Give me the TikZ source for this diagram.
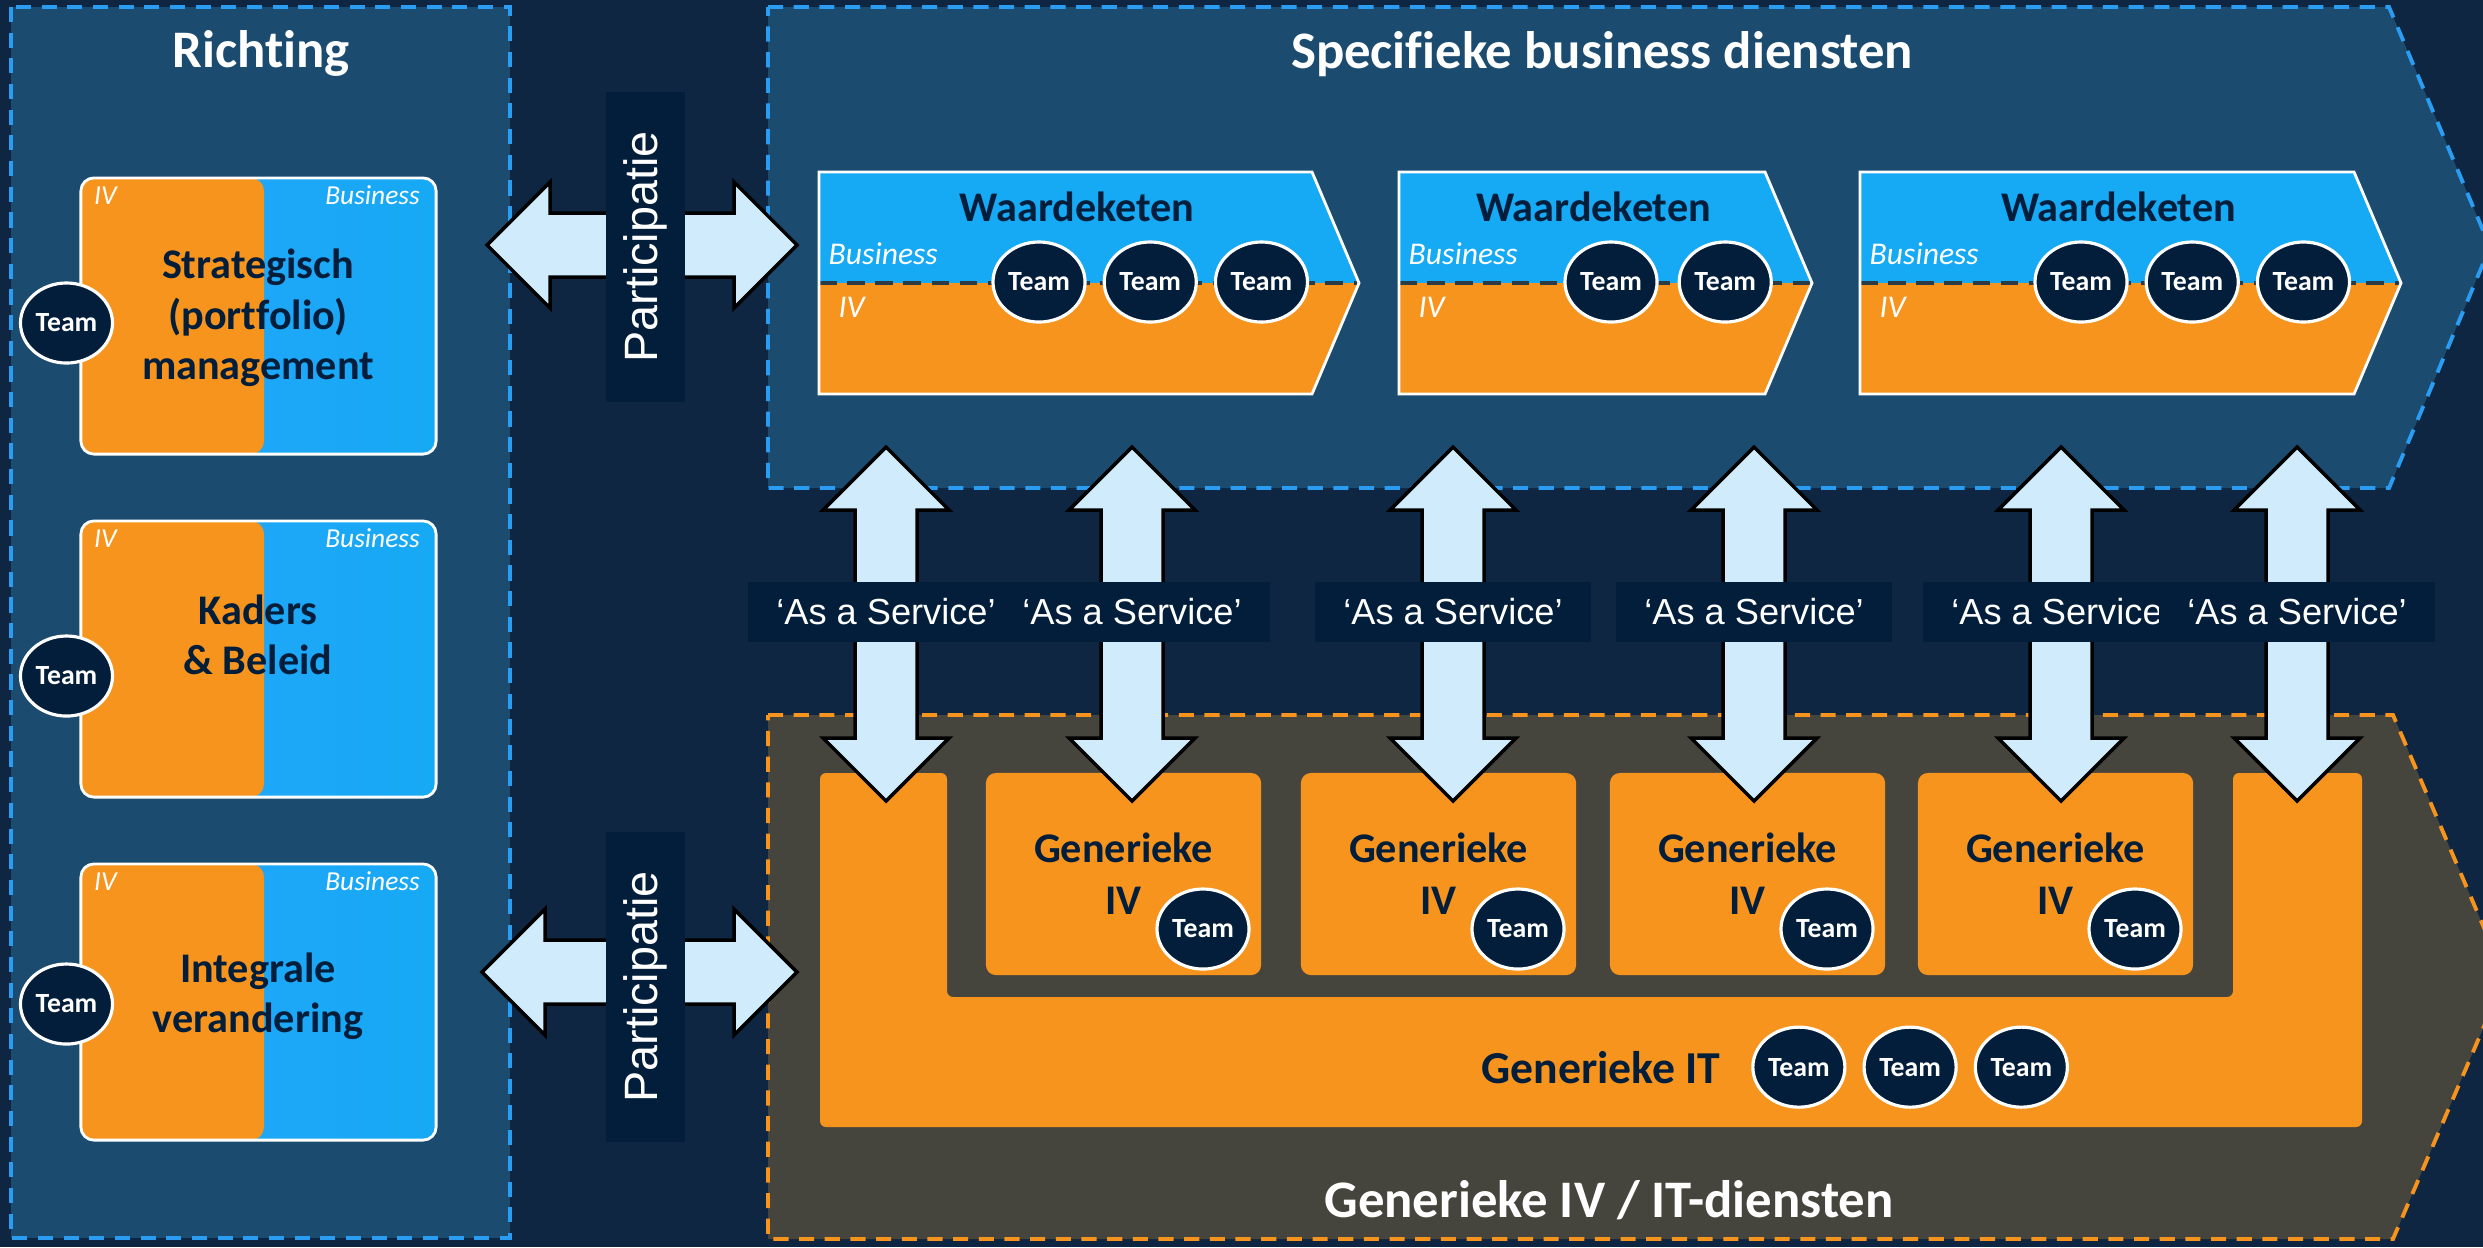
\documentclass[tikz,border=0pt]{standalone}
\usepackage{fontspec}
\setmainfont{Carlito}[Ligatures=NoCommon]
\newfontfamily\arialfont{Liberation Sans}
\usepackage{tikz}
\usetikzlibrary{positioning}
\usetikzlibrary{calc}
\usetikzlibrary{shapes.geometric}

\definecolor{achtergrond}{HTML}{0E2641}
\definecolor{paneelblauw}{HTML}{1C4B70}
\definecolor{paneelgrijs}{HTML}{46453D}
\definecolor{oranje}{HTML}{F7941E}
\definecolor{blauw}{HTML}{16A9F4}
\definecolor{blauwlicht}{HTML}{26A5FC}
\definecolor{navy}{HTML}{021E3B}
\definecolor{pijlblauw}{HTML}{CFEBFC}
\definecolor{streepblauw}{HTML}{2A9CF2}
\definecolor{scheidlijn}{HTML}{2D3B45}

\newcommand{\vpijl}[2]{%
  \draw[pijl] (#1) -- ++(63,63) -- ++(-32,0) -- ($(#2)+(31,-63)$) -- ++(32,0) -- (#2)
    -- ++(-63,-63) -- ++(32,0) -- ($(#1)+(-31,63)$) -- ++(-32,0) -- cycle;}
\newcommand{\hpijl}[2]{%
  \draw[pijl] (#1) -- ++(63,-63) -- ++(0,31) -- ($(#2)+(-63,-32)$) -- ++(0,-31) -- (#2)
    -- ++(-63,63) -- ++(0,-31) -- ($(#1)+(63,32)$) -- ++(0,31) -- cycle;}

\begin{document}
\begin{tikzpicture}[x=0.01cm, y=-0.01cm,
    team/.style={ellipse, draw=white, line width=0.9pt, fill=navy, minimum width=0.92cm, minimum height=0.80cm,
      inner sep=0pt, text=white, font=\bfseries\fontsize{7.9}{8}\selectfont},
    kop/.style={anchor=base, inner sep=0pt, text=white, font=\bfseries\fontsize{15}{18}\selectfont},
    vak/.style={rectangle, rounded corners=0.13cm, draw=white, line width=0.8pt, left color=blauwlicht, right color=blauw,
      minimum width=3.55cm, minimum height=2.76cm, inner sep=0pt,
      path picture={\fill[oranje] (path picture bounding box.north west) rectangle ([xshift=0.055cm]path picture bounding box.south);}},
    vaktekst/.style={align=center, inner sep=0pt, text=navy, font=\bfseries\fontsize{12}{14.3}\selectfont},
    hoek/.style={inner sep=0pt, text=white, font=\itshape\fontsize{7.8}{9}\selectfont},
    ketenhoek/.style={inner sep=0pt, text=white, font=\itshape\fontsize{9}{10}\selectfont},
    ketenkop/.style={anchor=base, inner sep=0pt, text=navy, font=\bfseries\fontsize{12}{14}\selectfont},
    ivvak/.style={rectangle, rounded corners=0.1cm, fill=oranje, minimum width=2.75cm, minimum height=2.02cm,
      inner sep=0pt, align=center, text=navy, font=\bfseries\fontsize{12}{14.8}\selectfont},
    streep/.style={dash pattern=on 4.3pt off 3pt, line width=1.1pt},
    pijl/.style={draw=black, line width=1pt, fill=pijlblauw, line join=miter},
    dienst/.style={fill=navy, text=white, minimum width=2.76cm, minimum height=0.60cm, inner sep=0pt,
      font=\arialfont\fontsize{10.3}{12}\selectfont},
    participatie/.style={fill=navy, text=white, rotate=90, minimum width=3.10cm, minimum height=0.79cm, inner sep=0pt,
      font=\arialfont\fontsize{13.3}{15}\selectfont}]

  \useasboundingbox (0,0) rectangle (2483,1247);
  \clip (0,0) rectangle (2483,1247);
  \fill[achtergrond] (0,0) rectangle (2483,1247);

  \fill[paneelblauw] (11,7) rectangle (510,1238);
  \draw[streep, streepblauw] (11,7) rectangle (510,1238);
  \fill[paneelblauw] (768,7) -- (2389,7) -- (2490,247) -- (2389,488) -- (768,488) -- cycle;
  \draw[streep, streepblauw] (768,7) -- (2389,7) -- (2490,247) -- (2389,488) -- (768,488) -- cycle;
  \fill[paneelgrijs] (768,715) -- (2393,715) -- (2505,977) -- (2393,1239) -- (768,1239) -- cycle;
  \draw[streep, oranje] (768,715) -- (2393,715) -- (2505,977) -- (2393,1239) -- (768,1239) -- cycle;

  \node[kop] (richting) at (261,67) {Richting};
  \node[kop] (specifiek) at (1602,68) {Specifieke business diensten};
  \node[kop] (generiek) at (1609,1217) {Generieke IV / IT-diensten};

  \node[vak] (strategie) at (258.5,316) {};
  \node[vak, below=0.64cm of strategie] (kaders) {};
  \node[vak, below=0.64cm of kaders] (verandering) {};
  \node[vaktekst] at (258,318) {Strategisch\\(portfolio)\\management};
  \node[vaktekst] at (258,635) {Kaders\\\& Beleid};
  \node[vaktekst] at (258,996) {Integrale\\verandering};
  \foreach \vak/\dy in {strategie/7, kaders/17, verandering/2} {
    \node[hoek, anchor=west] at ($(\vak.north west)+(14,19)$) {IV};
    \node[hoek, anchor=east] at ($(\vak.north east)+(-17,19)$) {Business};
    \node[team] (team-\vak) at ($(\vak.west)+(-13,\dy)$) {Team};
  }

  \foreach \xa/\xb/\naam in {819/1312/keten1, 1399/1765/keten2, 1860/2354/keten3} {
    \fill[blauw] (\xa,172) -- (\xb,172) -- (\xb+47,283) -- (\xa,283) -- cycle;
    \fill[oranje] (\xa,283) -- (\xb+47,283) -- (\xb,394) -- (\xa,394) -- cycle;
    \draw[scheidlijn, line width=1.3pt, dash pattern=on 5pt off 3pt] (\xa,283) -- (\xb+47,283);
    \draw[white, line width=0.8pt] (\xa,172) -- (\xb,172) -- (\xb+47,283) -- (\xb,394) -- (\xa,394) -- cycle;
    \node[ketenkop] (\naam) at ({(\xa+\xb+23)/2},221) {Waardeketen};
    \node[ketenhoek, anchor=west] at (\xa+9,254) {Business};
    \node[ketenhoek, anchor=west] at (\xa+19,307) {IV};
  }
  \node[team] (t11) at (1039,282) {Team};
  \node[team, right=0.16cm of t11] (t12) {Team};
  \node[team, right=0.16cm of t12] (t13) {Team};
  \node[team] (t21) at (1611,282) {Team};
  \node[team, right=0.19cm of t21] (t22) {Team};
  \node[team] (t31) at (2081,282) {Team};
  \node[team, right=0.16cm of t31] (t32) {Team};
  \node[team, right=0.16cm of t32] (t33) {Team};

  \fill[oranje, rounded corners=0.06cm] (820,773) -- (947,773) -- (947,997) -- (2233,997) -- (2233,773)
    -- (2362,773) -- (2362,1127) -- (820,1127) -- cycle;
  \node[anchor=base, inner sep=0pt, text=navy, font=\bfseries\fontsize{13}{15}\selectfont] (genit) at (1601,1083) {Generieke IT};
  \node[team, right=0.3cm of genit] (it1) {Team};
  \node[team, right=0.16cm of it1] (it2) {Team};
  \node[team, right=0.16cm of it2] (it3) {Team};
  \foreach \x [count=\i] in {986,1301,1610,1918} {
    \node[ivvak] (iv\i) at (\x+137.5,874) {Generieke\\IV};
    \node[team] (ivteam\i) at (\x+217,929) {Team};
  }

  \coordinate (p1l) at (487,245);
  \coordinate (p1r) at (797,245);
  \coordinate (p2l) at (482,972);
  \coordinate (p2r) at (797,972);
  \hpijl{p1l}{p1r}
  \hpijl{p2l}{p2r}
  \node[participatie] (part1) at (645.5,247) {Participatie};
  \node[participatie] (part2) at (645.5,987) {Participatie};

  \foreach \x [count=\i] in {886,1132,1453,1754,2061,2297} {
    \coordinate (st\i) at (\x,447);
    \coordinate (sb\i) at (\x,801);
    \vpijl{st\i}{sb\i}
  }
  \foreach \x [count=\i] in {886,1132,1453,1754,2061,2297} {
    \node[dienst] (as\i) at (\x,612) {‘As a Service’};
  }
\end{tikzpicture}
\end{document}
